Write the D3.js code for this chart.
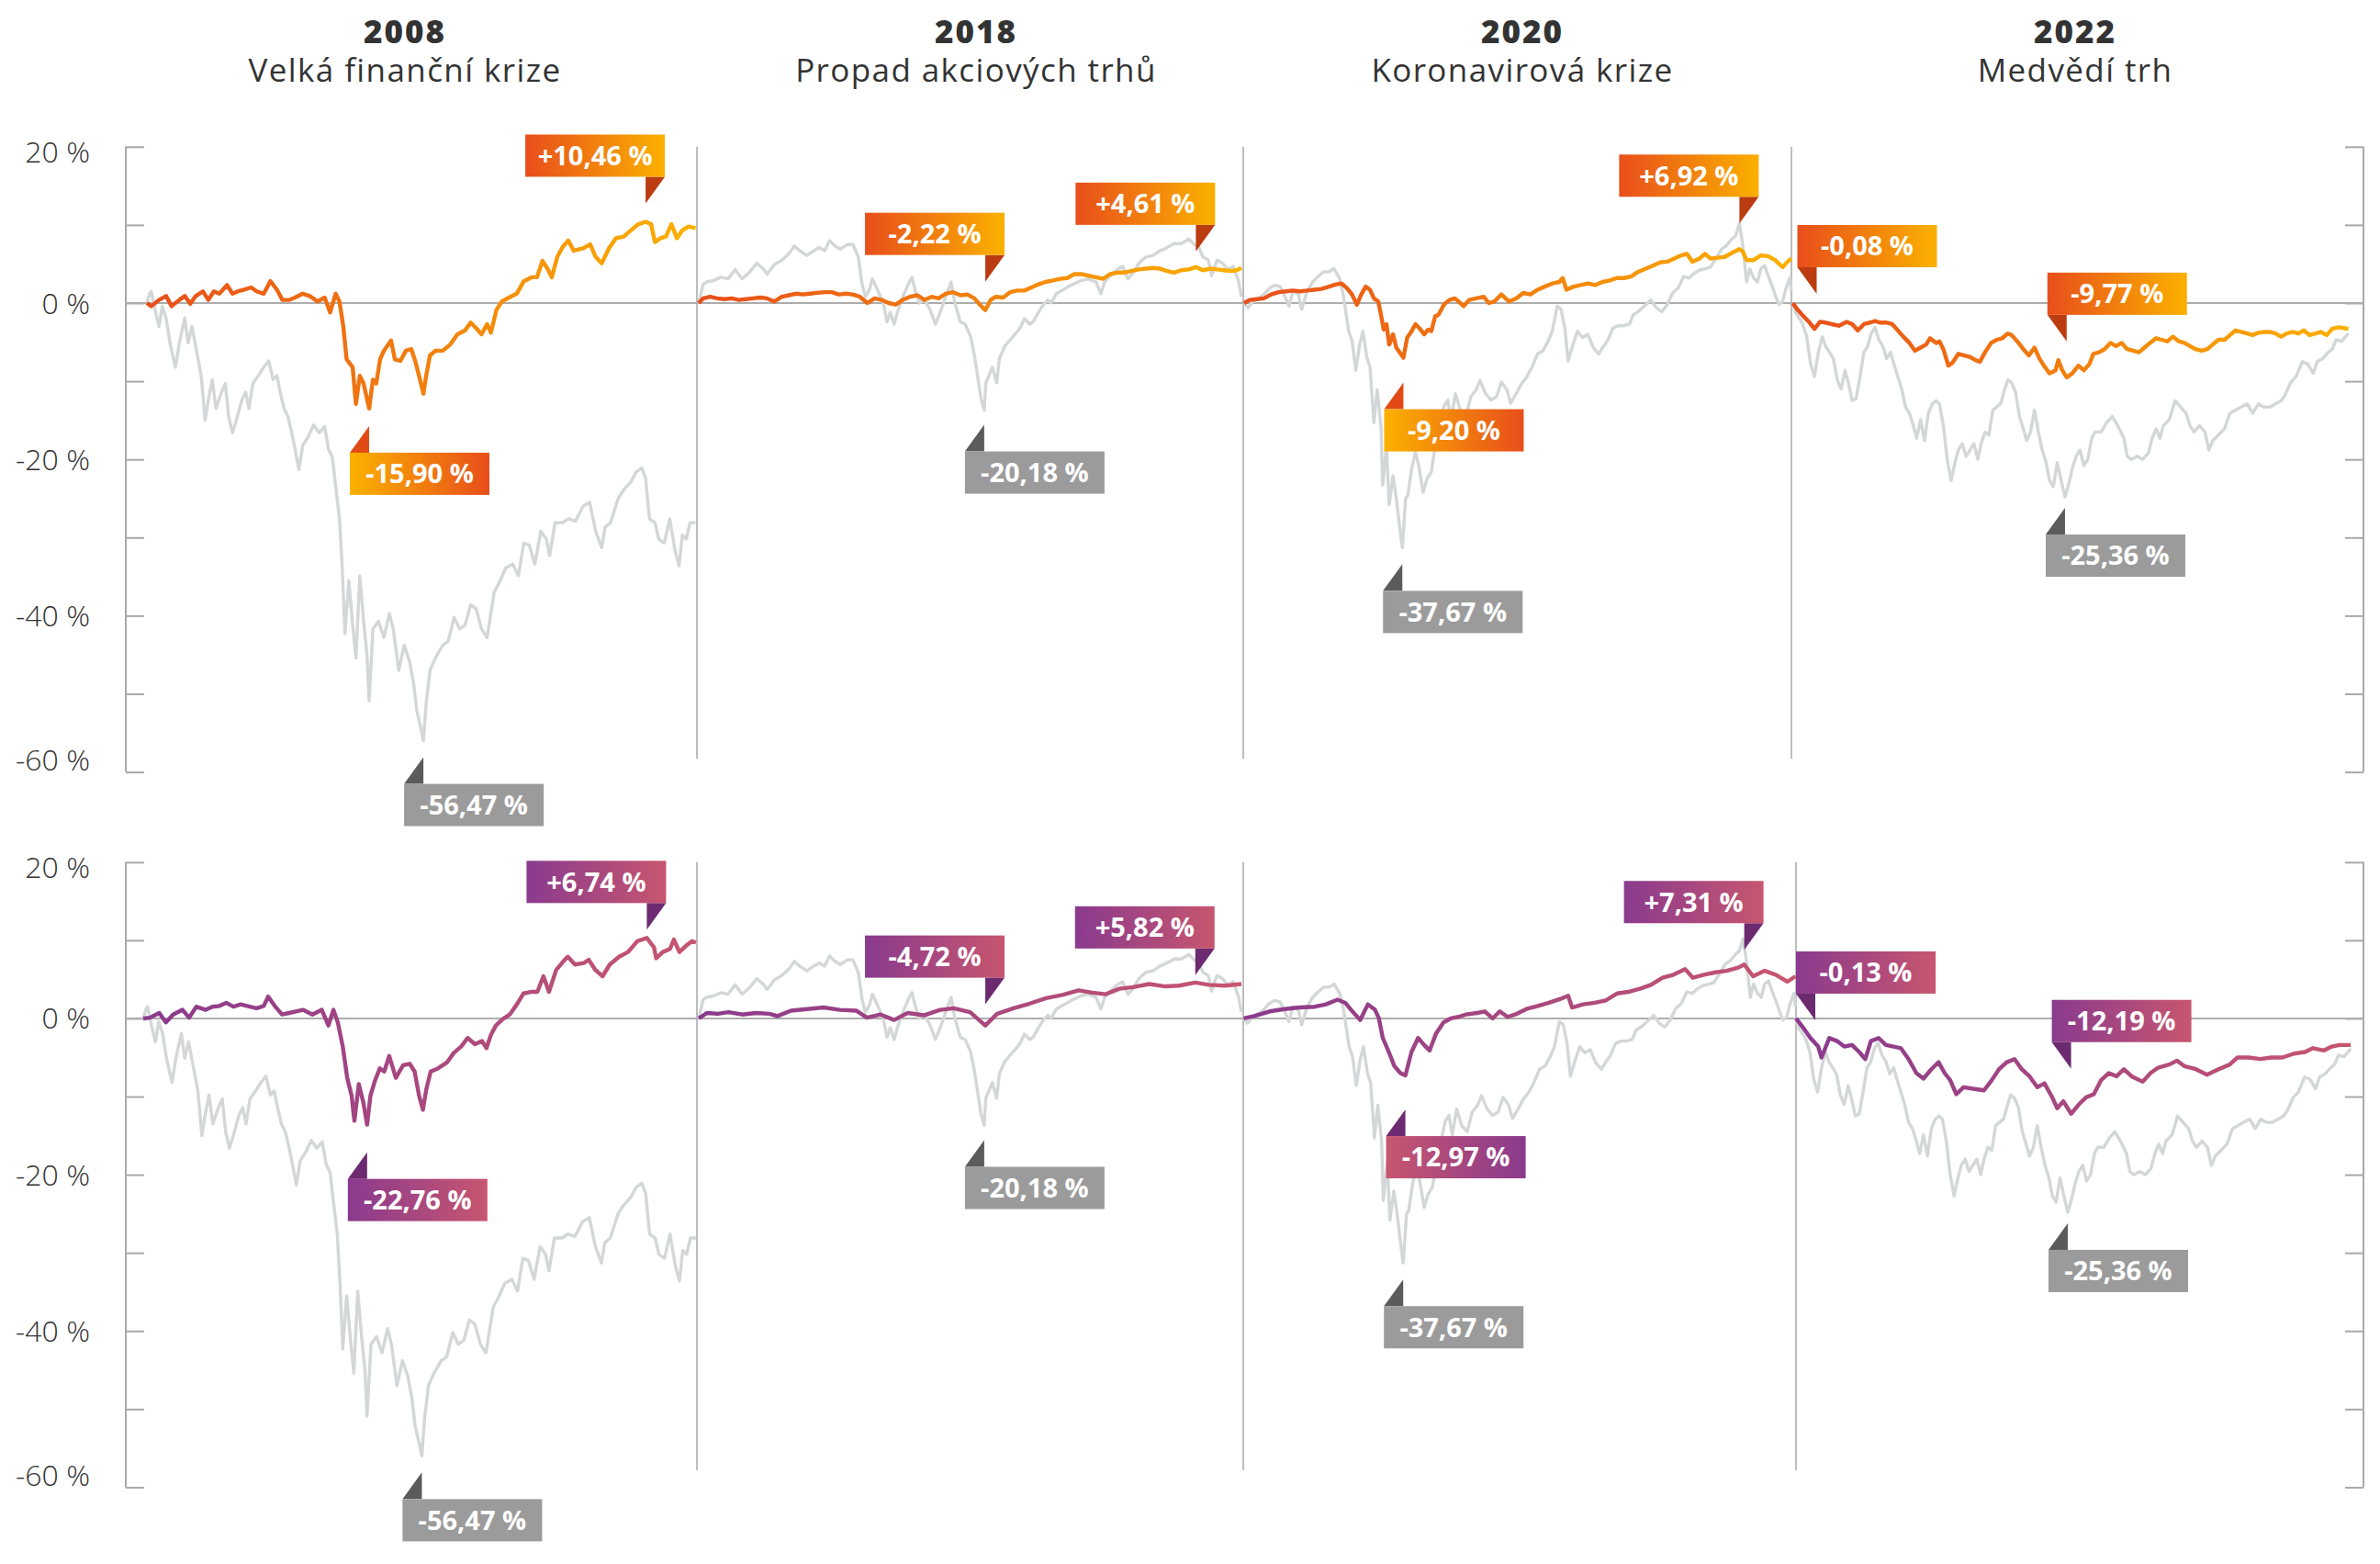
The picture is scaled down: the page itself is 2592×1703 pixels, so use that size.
<!DOCTYPE html>
<html><head><meta charset="utf-8">
<script src="https://cdn.jsdelivr.net/npm/d3@7"></script>
<style>html,body{margin:0;padding:0;background:#fff}svg{display:block}</style>
</head><body>
<svg id="chart" width="2592" height="1703"></svg>
<script>
// ---------------- DATA ----------------
const periods = ["2008", "2018", "2020", "2022"];
const periodNames = ["Velká finanční krize", "Propad akciových trhů", "Koronavirová krize", "Medvědí trh"];
const yTicks = [20, 10, 0, -10, -20, -30, -40, -50, -60];
const yLabelValues = [20, 0, -20, -40, -60];
const yLabelTexts = ["20 %", "0 %", "-20 %", "-40 %", "-60 %"];

// [position in period (0-100), return in %]
const bench2008 = [[0,0],[0.5,1.2],[0.8,1.5],[1.5,-0.9],[2.2,-3.0],[2.8,-0.4],[3.5,-1.9],[4.2,-5.1],[5.2,-8.2],[5.9,-5.1],[6.9,-1.9],[7.5,-5.1],[8.2,-3.0],[9.2,-6.7],[9.9,-9.3],[10.6,-15.0],[11.2,-12.4],[11.9,-9.8],[12.6,-13.5],[13.6,-11.4],[14.3,-10.3],[14.9,-14.5],[15.6,-16.6],[16.3,-15.0],[17.3,-12.4],[18.0,-11.4],[18.6,-13.5],[19.3,-10.3],[20.3,-9.3],[21.3,-8.2],[22.2,-7.4],[23.0,-9.8],[23.7,-9.3],[24.3,-11.4],[25.0,-13.5],[25.7,-14.5],[26.4,-16.6],[27.0,-18.7],[27.7,-21.3],[28.4,-18.2],[29.4,-17.1],[30.4,-15.6],[31.4,-16.6],[32.4,-15.8],[33.1,-18.7],[33.8,-19.7],[34.4,-23.4],[35.1,-27.6],[35.6,-33.9],[36.1,-42.3],[36.8,-35.5],[37.5,-41.2],[38.1,-45.4],[38.8,-34.9],[39.5,-40.7],[40.1,-44.9],[40.5,-50.9],[41.2,-41.7],[42.2,-40.7],[43.2,-42.8],[44.2,-39.7],[44.9,-41.7],[45.9,-47.0],[46.9,-43.8],[47.9,-45.9],[48.6,-48.6],[49.2,-52.2],[49.9,-54.3],[50.4,-56.0],[50.9,-51.2],[51.6,-47.0],[52.6,-45.4],[53.9,-43.8],[54.9,-43.3],[56.0,-40.2],[57.0,-41.7],[58.0,-41.2],[59.0,-38.6],[60.0,-39.1],[61.0,-41.7],[62.0,-42.8],[62.7,-39.7],[63.3,-37.0],[64.4,-35.5],[65.4,-33.9],[66.7,-33.4],[67.7,-34.9],[68.7,-30.7],[69.7,-31.0],[70.7,-33.4],[71.8,-29.2],[72.8,-30.2],[73.4,-32.3],[74.4,-28.1],[75.8,-28.1],[76.8,-27.6],[78.1,-27.9],[79.5,-26.0],[80.7,-25.5],[81.8,-29.2],[82.9,-31.3],[83.5,-28.7],[84.5,-28.1],[85.9,-25.0],[86.9,-23.9],[88.2,-22.9],[89.2,-21.6],[90.2,-21.1],[90.9,-22.4],[91.6,-27.6],[92.6,-28.1],[93.3,-30.2],[94.3,-30.7],[95.3,-27.6],[96.3,-31.8],[97.0,-33.6],[97.6,-29.7],[98.3,-30.2],[99.0,-28.1],[100,-28.1]];
const bench2018 = [[0,0],[0.8,2.4],[1.4,2.7],[2.8,2.9],[4.1,3.3],[5.4,3.1],[6.7,4.3],[8.0,3.1],[9.3,3.9],[10.7,5.1],[12.0,4.3],[12.6,3.7],[13.9,4.9],[15.3,5.5],[16.6,6.3],[17.6,7.3],[18.6,6.7],[19.9,6.1],[21.2,6.7],[22.2,7.1],[23.2,6.7],[24.1,8.0],[25.1,7.3],[26.1,6.9],[27.4,7.5],[28.4,7.5],[29.4,5.9],[30.1,2.4],[30.7,0.8],[31.4,1.6],[32.0,3.1],[33.0,1.6],[34.0,0],[34.7,-2.4],[35.3,-1.2],[36.0,-2.7],[36.6,-1.2],[37.6,0.8],[38.6,2.4],[39.3,3.3],[39.9,1.6],[40.6,0],[41.6,0.4],[42.6,-0.8],[43.6,-2.7],[44.5,-1.2],[45.5,0.8],[46.5,2.7],[47.2,0],[48.2,-2.4],[49.1,-2.7],[50.1,-4.3],[50.8,-6.7],[51.4,-9.4],[52.0,-12.2],[52.6,-13.7],[52.9,-10.2],[53.4,-9.4],[54.1,-8.2],[54.9,-10.2],[55.4,-7.1],[56.4,-5.5],[57.4,-4.7],[58.4,-3.9],[59.3,-3.1],[60.0,-2.0],[61.0,-2.7],[61.6,-2.4],[62.6,-1.2],[63.3,-0.4],[64.3,0.4],[64.9,0],[65.9,1.2],[66.9,1.6],[67.9,2.0],[68.9,2.4],[69.9,2.7],[70.5,2.9],[71.8,3.1],[73.2,2.7],[74.1,1.2],[74.8,2.7],[75.8,3.5],[77.1,4.3],[78.1,4.7],[79.1,3.1],[80.1,3.9],[81.1,5.1],[82.4,5.9],[83.7,6.1],[85.0,6.7],[86.3,7.1],[87.6,7.6],[88.9,7.6],[90.3,8.2],[91.3,7.5],[92.2,7.1],[92.9,5.9],[93.9,5.5],[94.5,3.5],[95.5,5.5],[96.5,5.1],[97.5,4.3],[98.5,4.7],[99.5,2.7],[100,0.8]];
const bench2020 = [[0,0],[0.7,-0.6],[1.6,0.2],[2.6,0.6],[3.6,1.1],[4.6,1.9],[5.6,2.3],[6.6,2.1],[7.6,0.6],[8.2,-0.4],[8.9,1.5],[9.9,1.1],[10.5,-0.8],[11.5,1.5],[12.5,2.7],[13.5,3.4],[14.5,4.0],[15.5,4.0],[16.4,4.4],[17.4,3.2],[18.1,1.1],[19.1,-3.6],[19.7,-4.8],[20.4,-8.6],[21.1,-5.3],[21.7,-3.6],[22.4,-6.9],[23.0,-8.2],[23.7,-15.3],[24.3,-11.1],[25.0,-15.8],[25.3,-23.3],[26.0,-18.3],[26.5,-25.8],[27.2,-22.1],[27.8,-25.0],[28.5,-29.2],[28.9,-31.3],[29.5,-25.0],[29.9,-24.6],[30.6,-21.2],[31.3,-19.1],[31.9,-20.8],[32.7,-24.2],[33.4,-22.5],[34.2,-21.6],[34.9,-18.3],[35.7,-15.8],[36.5,-13.2],[37.2,-12.4],[37.8,-14.9],[38.6,-11.6],[39.5,-13.7],[40.5,-14.5],[41.4,-12.0],[42.4,-11.1],[43.1,-9.9],[44.1,-11.6],[45.1,-12.4],[46.1,-12.0],[47.0,-10.1],[48.0,-11.1],[48.7,-12.8],[49.7,-11.6],[50.7,-10.3],[51.6,-9.5],[52.6,-8.2],[53.6,-6.5],[54.6,-6.1],[55.6,-4.8],[56.3,-3.6],[57.2,-0.4],[57.9,-0.8],[58.6,-3.2],[59.2,-7.4],[59.9,-5.7],[60.9,-3.6],[61.8,-4.4],[62.8,-4.0],[63.8,-5.7],[64.8,-6.5],[65.5,-5.7],[66.4,-4.8],[67.4,-3.2],[68.4,-2.9],[69.4,-2.9],[70.4,-2.7],[71.1,-1.5],[72.0,-1.1],[73.4,-0.2],[74.3,0.4],[75.3,-0.6],[76.3,-1.1],[77.3,-0.2],[78.3,1.3],[79.3,1.9],[80.3,3.4],[81.3,3.2],[82.2,3.8],[83.2,4.2],[84.2,4.4],[85.2,4.6],[86.2,5.7],[87.2,6.9],[88.2,7.4],[89.1,8.2],[89.8,8.6],[90.5,10.2],[91.1,7.4],[91.8,2.7],[92.4,4.4],[93.1,3.2],[93.8,2.7],[94.4,4.4],[95.1,4.8],[95.7,3.6],[96.4,2.3],[97.0,1.1],[97.7,-0.2],[98.4,0.2],[99.0,1.9],[99.7,3.2],[100,1.5]];
const bench2022 = [[0,0],[0.5,-1.2],[1.2,-2.0],[1.8,-2.7],[2.5,-4.3],[3.2,-7.8],[3.9,-9.4],[4.6,-6.3],[5.3,-4.3],[5.9,-5.5],[6.6,-6.3],[7.3,-7.1],[8.0,-9.8],[8.7,-11.0],[9.4,-8.6],[10.0,-10.2],[10.7,-12.5],[11.4,-12.2],[12.1,-9.4],[12.8,-6.3],[13.5,-5.5],[14.1,-3.9],[14.8,-3.1],[15.5,-4.7],[16.2,-5.5],[16.9,-7.1],[17.6,-6.3],[18.2,-7.8],[18.9,-9.4],[19.6,-11.0],[20.3,-13.3],[21.0,-14.1],[21.7,-15.7],[22.3,-17.3],[23.0,-14.9],[23.7,-17.6],[24.4,-14.1],[25.1,-12.9],[25.8,-12.5],[26.4,-12.9],[27.1,-15.7],[27.8,-20.0],[28.5,-22.7],[29.2,-20.4],[29.8,-18.8],[30.5,-18.0],[31.2,-19.6],[31.9,-18.8],[32.6,-18.0],[33.3,-20.0],[33.9,-18.0],[34.6,-16.5],[35.3,-16.9],[36.0,-13.7],[36.7,-13.3],[37.4,-12.9],[38.0,-11.4],[38.7,-9.8],[39.4,-10.2],[40.1,-11.4],[40.8,-14.5],[41.5,-16.1],[42.1,-17.6],[42.8,-16.5],[43.5,-13.7],[44.2,-16.5],[44.9,-18.8],[45.6,-20.4],[46.2,-22.7],[46.9,-23.5],[47.6,-20.4],[48.3,-22.7],[49.0,-24.8],[49.7,-23.1],[50.3,-21.2],[51.0,-19.6],[51.7,-18.8],[52.4,-20.8],[53.1,-20.0],[53.8,-17.3],[54.4,-16.5],[55.5,-16.5],[56.5,-15.3],[57.5,-14.5],[58.5,-15.7],[59.6,-17.3],[60.2,-19.6],[60.9,-20.0],[62.0,-19.6],[63.0,-20.0],[64.0,-19.2],[64.7,-17.3],[65.4,-16.1],[66.1,-17.3],[66.7,-15.7],[67.8,-14.9],[68.8,-12.5],[69.8,-13.3],[70.8,-14.1],[71.5,-15.7],[72.2,-16.5],[73.2,-15.7],[74.2,-16.5],[74.9,-18.8],[75.6,-17.6],[76.6,-16.9],[77.7,-16.1],[78.7,-14.1],[79.7,-13.7],[80.7,-13.3],[81.8,-12.9],[82.8,-14.1],[83.8,-12.9],[84.8,-13.3],[85.9,-13.3],[86.9,-12.9],[87.9,-12.5],[88.6,-11.8],[89.6,-10.2],[90.6,-9.4],[91.7,-7.5],[92.7,-7.8],[93.7,-9.0],[94.4,-7.5],[95.4,-7.1],[96.4,-6.3],[97.1,-5.9],[97.8,-4.7],[98.8,-4.9],[100,-3.9]];

// orange fund (top row)
const fundA2008 = [[0,0],[0.8,-0.4],[2.2,0.4],[3.5,0.9],[4.5,-0.4],[5.9,0.4],[6.9,0.9],[7.9,-0.1],[8.9,0.9],[10.2,1.5],[11.2,0.4],[12.2,1.5],[13.2,1.2],[14.6,2.3],[15.6,1.2],[16.6,1.5],[17.6,1.7],[19.0,2.0],[20.0,1.5],[21.3,1.2],[22.5,2.8],[23.7,1.7],[24.7,0.4],[26.0,0.4],[27.0,0.7],[28.4,1.2],[29.7,0.9],[31.1,0.2],[32.4,0.7],[33.4,-1.2],[34.4,1.2],[35.1,0.2],[35.8,-3.0],[36.4,-7.2],[37.5,-8.2],[38.1,-12.9],[38.8,-9.3],[39.5,-10.3],[40.5,-13.5],[41.2,-9.8],[41.8,-10.3],[42.5,-7.2],[43.2,-6.1],[44.5,-4.8],[45.2,-7.2],[46.2,-7.4],[47.2,-6.1],[48.2,-5.9],[48.9,-7.4],[49.6,-9.3],[50.4,-11.6],[50.9,-9.3],[51.6,-6.7],[52.6,-6.1],[53.9,-6.1],[55.3,-5.3],[56.6,-4.0],[58.0,-3.5],[59.0,-2.5],[60.0,-3.2],[61.0,-4.0],[62.0,-2.7],[62.7,-3.8],[63.7,-0.9],[64.7,0.2],[66.0,0.7],[67.4,1.2],[68.7,2.8],[70.1,3.3],[71.1,3.3],[72.1,5.4],[73.1,4.3],[73.8,3.3],[74.8,5.9],[75.8,7.2],[76.8,8.0],[77.8,6.7],[79.5,7.0],[80.8,7.5],[81.8,5.9],[82.9,5.1],[84.2,7.0],[85.5,8.3],[86.9,8.5],[88.2,9.3],[89.6,10.1],[90.9,10.4],[91.9,10.1],[92.6,7.8],[93.6,8.3],[94.6,8.5],[95.6,10.1],[96.6,8.3],[97.6,9.3],[98.7,9.8],[100,9.6]];
const fundA2018 = [[0,0],[0.8,0.6],[2.1,0.8],[3.4,0.6],[4.7,0.5],[6.1,0.6],[7.4,0.4],[8.7,0.5],[10.0,0.6],[11.3,0.7],[12.6,0.6],[13.9,0.2],[15.3,0.8],[16.6,1.0],[17.9,1.2],[19.2,1.1],[20.5,1.2],[21.8,1.3],[23.2,1.4],[24.5,1.4],[25.8,1.1],[27.1,1.2],[28.4,1.1],[29.7,0.8],[31.1,0.0],[32.4,0.6],[33.7,0.4],[35.0,0.0],[36.3,-0.2],[37.6,0.4],[38.9,0.8],[40.3,1.0],[41.6,0.4],[42.9,0.8],[44.2,0.6],[45.5,1.2],[46.8,1.4],[48.2,1.0],[49.5,1.1],[50.8,0.6],[51.8,-0.2],[52.8,-0.9],[53.8,0.4],[54.7,0.8],[56.1,0.7],[57.4,1.4],[58.7,1.6],[60.0,1.6],[61.3,2.0],[62.6,2.4],[63.9,2.7],[65.3,2.9],[66.6,3.1],[67.9,3.2],[69.2,3.7],[70.5,3.7],[71.8,3.5],[73.2,3.3],[74.5,3.1],[75.8,3.7],[77.1,3.9],[78.4,3.9],[79.7,4.1],[81.1,4.3],[82.4,4.4],[83.7,4.5],[85.0,4.4],[86.3,4.1],[87.6,3.9],[88.9,4.2],[90.3,4.3],[91.6,4.6],[92.9,4.2],[94.2,4.4],[95.5,4.3],[96.8,4.2],[98.2,4.1],[99.1,4.2],[100,4.5]];
const fundA2020 = [[0,0],[1.0,0.4],[2.3,0.5],[3.6,0.6],[4.9,1.1],[6.3,1.4],[7.6,1.5],[8.9,1.6],[10.2,1.5],[11.5,1.6],[12.8,1.7],[14.1,1.8],[15.5,2.1],[16.8,2.4],[17.8,2.5],[18.8,1.9],[19.7,1.1],[20.6,-0.2],[21.4,1.1],[22.2,2.1],[23.0,1.7],[23.7,0.6],[24.5,0.2],[25.0,-1.5],[25.5,-3.4],[26.0,-2.7],[26.5,-5.3],[27.2,-4.0],[27.8,-5.7],[28.6,-6.5],[29.1,-7.0],[29.8,-4.4],[30.6,-3.6],[31.3,-2.7],[32.0,-3.2],[32.9,-4.0],[33.6,-3.4],[34.2,-3.6],[34.9,-1.7],[35.5,-1.5],[36.5,-0.2],[37.5,0.4],[38.5,0.6],[39.5,0],[40.1,-0.4],[41.1,0.4],[42.4,0.6],[43.8,0.8],[44.7,0],[45.7,0.2],[47.0,1.1],[48.4,0.2],[49.7,0.6],[51.0,1.3],[52.3,1.1],[53.6,1.7],[54.9,2.1],[56.3,2.5],[57.6,2.7],[58.2,3.2],[58.9,1.7],[60.2,2.1],[61.5,2.3],[62.8,2.5],[64.1,2.3],[65.5,2.7],[66.8,2.9],[68.1,3.2],[69.4,3.2],[70.7,3.4],[72.0,4.0],[73.4,4.4],[74.7,4.8],[76.0,5.2],[77.3,5.3],[78.6,5.7],[79.9,6.1],[80.9,6.3],[81.9,5.3],[83.2,5.7],[84.2,6.3],[85.2,5.7],[86.5,5.8],[87.8,5.9],[89.1,6.4],[90.5,6.9],[91.1,6.6],[91.8,5.5],[93.1,5.5],[94.4,6.1],[95.7,6.0],[97.0,5.5],[98.4,4.6],[99.3,5.3],[100,5.7]];
const fundA2022 = [[0,0],[0.8,-0.8],[1.8,-1.6],[2.9,-2.4],[3.9,-3.3],[4.9,-2.4],[5.9,-2.5],[7.0,-2.7],[8.3,-2.9],[9.7,-2.4],[10.7,-2.7],[11.7,-3.5],[12.8,-2.7],[13.8,-2.5],[14.8,-2.3],[15.8,-2.5],[16.9,-2.5],[17.9,-2.7],[18.9,-3.5],[19.9,-4.3],[21.0,-5.1],[22.0,-6.1],[23.0,-5.7],[24.0,-5.3],[24.7,-4.5],[25.8,-5.1],[26.4,-4.9],[27.1,-5.9],[28.0,-8.0],[28.8,-7.6],[29.8,-6.5],[30.9,-6.7],[31.9,-6.9],[32.9,-7.3],[33.7,-7.5],[34.6,-6.3],[35.7,-5.1],[36.7,-4.7],[37.7,-4.5],[38.7,-3.9],[39.4,-4.1],[40.4,-4.9],[41.5,-5.9],[42.5,-6.7],[43.5,-5.7],[44.4,-7.1],[45.2,-8.0],[46.2,-9.0],[47.3,-8.6],[47.8,-7.3],[48.5,-8.6],[49.3,-9.5],[50.3,-9.0],[51.4,-8.0],[52.4,-8.6],[53.4,-7.8],[54.1,-6.5],[55.1,-6.3],[56.1,-5.9],[57.2,-5.1],[58.2,-5.5],[59.2,-5.1],[60.2,-5.9],[61.3,-6.1],[62.3,-6.3],[63.3,-5.7],[64.3,-5.1],[65.4,-4.5],[66.4,-4.7],[67.4,-4.9],[68.4,-4.3],[69.5,-4.9],[70.5,-5.1],[71.5,-5.5],[72.5,-5.9],[73.6,-6.1],[74.6,-5.9],[75.6,-5.3],[76.6,-4.7],[77.7,-4.7],[78.7,-4.1],[79.7,-3.5],[80.7,-3.7],[81.8,-3.9],[82.8,-4.1],[83.8,-3.8],[84.8,-3.7],[85.9,-3.7],[86.9,-3.9],[87.9,-4.3],[88.9,-3.9],[90.0,-3.7],[91.0,-3.9],[92.0,-3.5],[93.0,-4.1],[94.1,-3.9],[95.1,-3.7],[96.1,-4.1],[97.1,-3.3],[98.2,-3.1],[99.2,-3.2],[100,-3.3]];

// purple fund (bottom row)
const fundB2008 = [[0,0],[1.2,0.1],[2.9,0.7],[4.1,-0.5],[5.4,0.5],[7.1,1.1],[8.3,0.1],[9.6,1.5],[11.3,1.1],[12.5,1.5],[13.8,1.6],[15.0,2.0],[16.3,1.5],[17.6,1.8],[18.8,1.6],[20.5,1.3],[21.8,1.6],[22.6,2.8],[23.9,1.5],[25.1,0.5],[26.4,0.7],[27.6,0.9],[28.9,1.1],[30.6,0.5],[32.3,1.1],[33.5,-0.9],[34.4,1.1],[35.2,-0.5],[36.1,-3.6],[36.9,-7.6],[37.7,-9.9],[38.2,-13.1],[39.0,-8.4],[39.8,-10.7],[40.5,-13.6],[41.1,-9.9],[41.9,-8.0],[42.8,-6.4],[43.6,-6.8],[44.5,-4.8],[45.7,-7.6],[47.0,-6.0],[48.2,-5.8],[49.1,-6.8],[49.9,-9.9],[50.6,-11.7],[51.2,-9.1],[52.0,-6.8],[53.3,-6.4],[55.0,-5.6],[56.2,-4.4],[57.5,-3.6],[58.7,-2.5],[60.0,-3.3],[61.3,-2.9],[62.1,-3.8],[62.9,-2.1],[63.8,-0.9],[65.0,-0.1],[66.3,0.5],[67.6,1.8],[68.8,3.2],[70.1,3.4],[71.3,3.4],[72.4,5.4],[73.4,3.4],[74.7,6.2],[76.0,7.3],[76.8,7.9],[78.1,6.9],[79.7,7.1],[80.6,7.5],[81.8,6.2],[83.1,5.4],[84.4,6.9],[86.1,7.9],[87.7,8.5],[89.4,9.9],[91.1,10.3],[92.4,9.1],[92.8,7.7],[94.0,8.5],[95.3,8.9],[96.0,10.1],[97.0,8.5],[98.2,9.3],[99.3,9.9],[100,9.7]];
const fundB2018 = [[0,0],[1.5,0.7],[3.5,0.6],[5.5,0.8],[8.0,0.5],[10.5,0.7],[13.0,0.6],[14.5,0.3],[17.0,1.0],[20.0,1.2],[23.0,1.4],[26.0,1.1],[29.0,1.0],[31.0,0.1],[33.5,0.5],[36.0,-0.2],[38.5,0.7],[41.5,0.4],[44.5,1.1],[47.0,1.3],[50.0,0.8],[52.8,-0.9],[55.0,0.6],[58.0,1.3],[61.0,1.9],[64.0,2.6],[67.0,3.0],[70.0,3.6],[72.5,3.3],[75.0,3.1],[77.5,3.8],[80.0,4.0],[83.0,4.4],[86.0,4.1],[88.5,4.2],[91.5,4.6],[94.0,4.3],[97.0,4.2],[100,4.4]];
const fundB2020 = [[0,0],[1.9,0.3],[4.7,0.9],[7.4,1.2],[10.1,1.4],[12.9,1.5],[14.9,1.8],[17.0,2.4],[18.4,2.0],[19.7,0.9],[21.1,-0.2],[22.5,1.8],[23.8,1.1],[24.5,0],[25.2,-2.5],[26.3,-4.3],[27.3,-6.1],[28.4,-7.0],[29.3,-7.3],[30.4,-4.3],[31.6,-2.5],[32.7,-3.4],[33.7,-4.1],[34.8,-2.0],[36.2,-0.5],[37.5,0],[38.9,0.2],[40.3,0.5],[42.3,0.7],[43.7,0.9],[45.1,0],[46.4,0.9],[47.8,0.2],[49.2,0.5],[51.2,1.2],[53.3,1.6],[55.3,2.0],[57.4,2.5],[58.8,2.9],[59.5,1.4],[61.5,1.8],[63.6,2.0],[65.6,2.3],[67.7,3.2],[69.7,3.4],[71.8,3.8],[73.8,4.3],[75.9,5.2],[77.9,5.6],[80.0,6.3],[81.4,5.2],[83.4,5.6],[85.5,5.9],[87.5,6.1],[89.6,6.5],[90.7,6.9],[92.3,5.4],[94.4,6.1],[96.4,5.6],[98.5,4.7],[100,5.4]];
const fundB2022 = [[0,0],[1.2,-1.1],[2.6,-2.5],[4.0,-3.6],[4.6,-5.0],[6.0,-2.5],[7.4,-2.9],[8.7,-3.6],[10.1,-3.4],[11.4,-4.3],[12.5,-5.2],[13.5,-2.9],[14.9,-2.5],[16.2,-3.4],[17.6,-3.6],[18.9,-3.8],[20.3,-5.2],[21.7,-7.0],[23.0,-7.7],[24.4,-6.5],[25.7,-5.6],[26.8,-7.0],[27.8,-7.9],[28.9,-9.7],[30.2,-8.8],[31.9,-9.0],[33.9,-9.2],[35.3,-7.9],[36.6,-6.5],[38.0,-5.6],[39.4,-5.2],[40.7,-6.5],[42.1,-7.4],[43.5,-8.8],[44.8,-8.3],[46.2,-10.1],[47.1,-11.5],[48.2,-10.6],[49.6,-12.2],[51.0,-11.0],[52.3,-10.1],[53.7,-9.7],[55.0,-7.9],[56.4,-7.0],[57.8,-7.4],[59.1,-6.5],[60.5,-7.4],[62.5,-8.1],[63.9,-7.0],[65.3,-6.3],[67.3,-5.9],[68.7,-5.4],[70.0,-6.1],[72.1,-6.5],[74.1,-7.2],[76.2,-6.5],[78.2,-5.9],[79.6,-5.0],[81.6,-5.0],[83.7,-5.2],[85.7,-5.0],[87.7,-5.0],[89.8,-4.5],[91.8,-4.3],[93.2,-3.8],[95.2,-4.1],[96.6,-3.6],[98.0,-3.4],[100,-3.4]];

const fundALabelTexts = [["+10,46 %", "-15,90 %"], ["-2,22 %", "+4,61 %"], ["+6,92 %", "-9,20 %"], ["-0,08 %", "-9,77 %"]];
const fundBLabelTexts = [["+6,74 %", "-22,76 %"], ["-4,72 %", "+5,82 %"], ["+7,31 %", "-12,97 %"], ["-0,13 %", "-12,19 %"]];
const benchLabelTexts = ["-56,47 %", "-20,18 %", "-37,67 %", "-25,36 %"];

// ---------------- LAYOUT ----------------
const svg = d3.select("#chart");
const defs = svg.append("defs");
const FONT = "'Open Sans', 'Noto Sans', sans-serif";

function linGrad(id, stops, attrs) {
  const g = defs.append("linearGradient").attr("id", id);
  Object.entries(attrs || {}).forEach(([k, v]) => g.attr(k, v));
  stops.forEach((c, i) => g.append("stop").attr("offset", (i / (stops.length - 1) * 100) + "%").attr("stop-color", c));
  return "url(#" + id + ")";
}
const ORANGE = ["#e84e1b", "#fbb100"];
const PURPLE = ["#8a3a8e", "#c7566f"];
const gOrange = linGrad("gO", ORANGE), gOrangeR = linGrad("gOr", [ORANGE[1], ORANGE[0]]);
const gPurple = linGrad("gP", PURPLE), gPurpleR = linGrad("gPr", [PURPLE[1], PURPLE[0]]);

const rows = [
  {
    id: "A", y20: 159.8, yM60: 840.6, dividerEnd: -58.3,
    panels: [[160, 757.5], [761, 1352], [1355, 1951], [1952.5, 2557.5]],
    dividers: [759, 1354, 1951],
    fund: [fundA2008, fundA2018, fundA2020, fundA2022],
    lineColors: ORANGE, texts: fundALabelTexts,
    grad: gOrange, gradR: gOrangeR, triAbove: "#bb3c10", triBelow: "#e14a15",
    labels: [
      [{t: 0, at: "max", side: "above", align: "left", gap: 20}, {t: 1, at: "min", side: "below", align: "right", gap: 19, rev: true}],
      [{t: 0, at: "min", side: "above", align: "left", gap: 31}, {t: 1, at: "max", side: "above", align: "left", gap: 17}],
      [{t: 0, at: "max", side: "above", align: "left", gap: 28}, {t: 1, at: "min", side: "below", align: "right", gap: 27, rev: true}],
      [{t: 0, at: "max", side: "above", align: "right", gap: 10, dx: 26}, {t: 1, at: "min", side: "above", align: "right", gap: 39}]
    ]
  },
  {
    id: "B", y20: 938.8, yM60: 1619.4, dividerEnd: -57.8,
    panels: [[156, 758], [761, 1352], [1354.5, 1955.5], [1956, 2560]],
    dividers: [759, 1354, 1956],
    fund: [fundB2008, fundB2018, fundB2020, fundB2022],
    lineColors: PURPLE, texts: fundBLabelTexts,
    grad: gPurple, gradR: gPurpleR, triAbove: "#6c2a70", triBelow: "#6c2a70",
    labels: [
      [{t: 0, at: "max", side: "above", align: "left", gap: 9}, {t: 1, at: "min", side: "below", align: "right", gap: 30}],
      [{t: 0, at: "min", side: "above", align: "left", gap: 23}, {t: 1, at: "max", side: "above", align: "left", gap: 8}],
      [{t: 0, at: "max", side: "above", align: "left", gap: 16}, {t: 1, at: "min", side: "below", align: "right", gap: 37, rev: true}],
      [{t: 0, at: "max", side: "above", align: "right", gap: -2, dx: 21}, {t: 1, at: "min", side: "above", align: "right", gap: 49}]
    ]
  }
];
const benches = [bench2008, bench2018, bench2020, bench2022];
const benchGaps = [18, 16, 18, 12];

const AX_L = 137, AX_R = 2574, TICK = 20;
const BOX_W = 152, BOX_H = 46, TRI_W = 21, TRI_H = 29;

// titles
const titleX = [441, 1063, 1658, 2260];
periods.forEach((p, i) => {
  svg.append("text").attr("x", titleX[i]).attr("y", 47).attr("text-anchor", "middle")
    .attr("font-family", FONT).attr("font-weight", 800).attr("font-size", 35).attr("letter-spacing", 2)
    .attr("fill", "#333").text(p);
  svg.append("text").attr("x", titleX[i]).attr("y", 89).attr("text-anchor", "middle")
    .attr("font-family", FONT).attr("font-weight", 400).attr("font-size", 35).attr("letter-spacing", 1.4)
    .attr("fill", "#333").text(periodNames[i]);
});

const labelLayer = [];

rows.forEach(row => {
  const y = d3.scaleLinear().domain([20, -60]).range([row.y20, row.yM60]);
  const g = svg.append("g");

  // y axis left + right
  const axL = d3.axisRight(y).tickValues(yTicks).tickSize(TICK).tickFormat("");
  const gl = g.append("g").attr("transform", `translate(${AX_L},0)`).call(axL);
  const axR = d3.axisLeft(y).tickValues(yTicks).tickSize(TICK).tickFormat("");
  const gr = g.append("g").attr("transform", `translate(${AX_R},0)`).call(axR);
  [gl, gr].forEach(a => {
    a.select(".domain").attr("d", `M0,${row.y20}V${row.yM60}`)
      .attr("stroke", "#a9a9a9").attr("stroke-width", 2).attr("fill", "none");
    a.selectAll(".tick line").attr("stroke", "#a9a9a9").attr("stroke-width", 2);
  });
  // tick labels
  const nudge = [6, 0, 0, 0, -13];
  yLabelValues.forEach((v, i) => {
    g.append("text").attr("x", 98).attr("y", y(v) + nudge[i]).attr("dy", "0.36em")
      .attr("text-anchor", "end").attr("font-family", FONT).attr("font-weight", 300)
      .attr("font-size", 32).attr("fill", "#333").text(yLabelTexts[i]);
  });

  // dividers
  row.dividers.forEach(dx => {
    g.append("line").attr("x1", dx).attr("x2", dx).attr("y1", y(20)).attr("y2", y(row.dividerEnd))
      .attr("stroke", "#bdbdbd").attr("stroke-width", 2);
  });
  // zero line
  g.append("line").attr("x1", AX_L).attr("x2", AX_R).attr("y1", y(0)).attr("y2", y(0))
    .attr("stroke", "#adadad").attr("stroke-width", 2);

  row.panels.forEach((ext, pi) => {
    const x = d3.scaleLinear().domain([0, 100]).range(ext);
    const line = d3.line().x(d => x(d[0])).y(d => y(d[1]));
    const lg = linGrad(`line${row.id}${pi}`, row.lineColors,
      {gradientUnits: "userSpaceOnUse", x1: ext[0], x2: ext[1], y1: 0, y2: 0});

    g.append("path").datum(benches[pi]).attr("d", line).attr("fill", "none")
      .attr("stroke", "#d3d7d7").attr("stroke-width", 3.4).attr("stroke-linejoin", "round");
    g.append("path").datum(row.fund[pi]).attr("d", line).attr("fill", "none")
      .attr("stroke", lg).attr("stroke-width", 4.4).attr("stroke-linejoin", "round");

    const ext2 = (data, at) => data.reduce((b, d) => (at === "max" ? d[1] > b[1] : d[1] < b[1]) ? d : b, data[0]);

    row.labels[pi].forEach(cfg => {
      const p = ext2(row.fund[pi], cfg.at);
      labelLayer.push({
        ax: x(p[0]) + (cfg.dx || 0), ay: y(p[1]), side: cfg.side, align: cfg.align, gap: cfg.gap,
        text: row.texts[pi][cfg.t], fill: cfg.rev ? row.gradR : row.grad,
        tri: cfg.side === "above" ? row.triAbove : row.triBelow, color: "#fff"
      });
    });
    const bp = ext2(benches[pi], "min");
    labelLayer.push({
      ax: x(bp[0]), ay: y(bp[1]), side: "below", align: "right", gap: benchGaps[pi],
      text: benchLabelTexts[pi], fill: "#9b9b9b", tri: "#5b5b5b", color: "#fff"
    });
  });
});

// callout labels
const lab = svg.append("g");
labelLayer.forEach(L => {
  const tipY = L.side === "above" ? L.ay - L.gap : L.ay + L.gap;
  const edgeY = L.side === "above" ? tipY - TRI_H : tipY + TRI_H;
  const boxY = L.side === "above" ? edgeY - BOX_H : edgeY;
  const boxX = L.align === "left" ? L.ax + TRI_W - BOX_W : L.ax - TRI_W;
  const tri = L.align === "left"
    ? [[L.ax, edgeY], [L.ax + TRI_W, edgeY], [L.ax, tipY]]
    : [[L.ax - TRI_W, edgeY], [L.ax, edgeY], [L.ax, tipY]];
  lab.append("path").attr("d", "M" + tri.map(p => p.join(",")).join("L") + "Z").attr("fill", L.tri);
  lab.append("rect").attr("x", boxX).attr("y", boxY).attr("width", BOX_W).attr("height", BOX_H).attr("fill", L.fill);
  lab.append("text").attr("x", boxX + BOX_W / 2).attr("y", boxY + BOX_H / 2).attr("dy", "0.36em")
    .attr("text-anchor", "middle").attr("font-family", FONT).attr("font-weight", 700)
    .attr("font-size", 29).attr("fill", L.color).text(L.text);
});
</script>
</body></html>
